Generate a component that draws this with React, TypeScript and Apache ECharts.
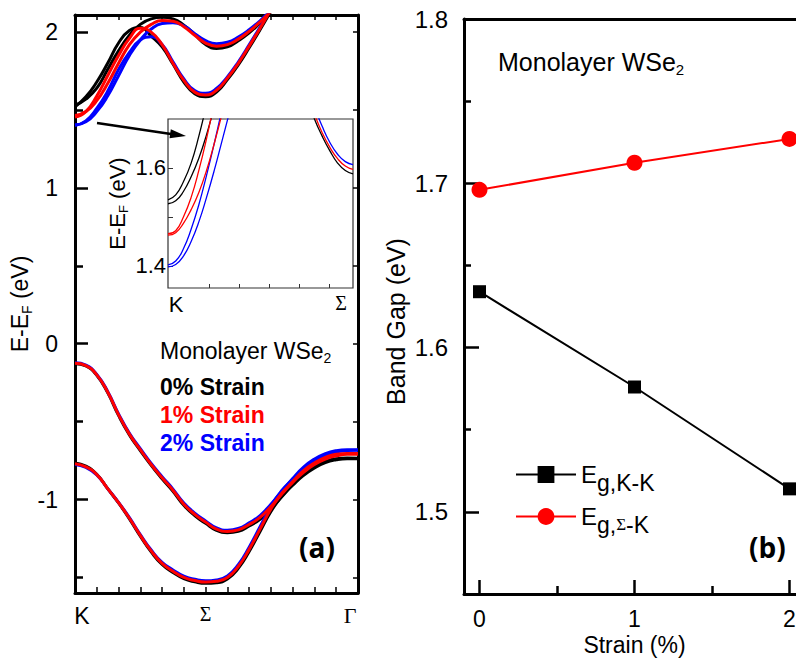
import React, { useEffect, useRef } from "react";
import * as echarts from "echarts";

const FONT = "Liberation Sans";
const SERIF = "Liberation Serif";
const BLACK = "#000000";
const RED = "#ff0000";
const BLUE = "#0000ff";

// ---------- Panel (a): band structure along K - Σ - Γ (path units) ----------
const kPath = [0, 0.5, 1, 1.5, 2, 2.5, 3, 3.5, 4, 4.5, 5, 5.5, 6, 6.5, 7, 7.5, 8, 8.5, 9, 9.5, 10, 10.5, 11, 11.5, 12, 12.5, 13];
const kTickPos = [0, 6, 13];
const kTickLabels = ["K", "Σ", "Γ"];
const eTicks = [-1, 0, 1, 2];
const eMinorTicks = [-1.5, -0.5, 0.5, 1.5];

// conduction bands (first 20 k-points)
const cb1Strain0 = [1.52, 1.585, 1.68, 1.8, 1.93, 2.01, 2.03, 1.975, 1.905, 1.795, 1.68, 1.605, 1.586, 1.615, 1.695, 1.79, 1.9, 2.015, 2.135, 2.255];
const cb2Strain0 = [1.53, 1.57, 1.64, 1.76, 1.88, 1.98, 2.05, 2.085, 2.095, 2.085, 2.045, 1.985, 1.92, 1.895, 1.905, 1.945, 1.995, 2.06, 2.13, 2.21];
const cb1Strain1 = [1.455, 1.49, 1.59, 1.72, 1.85, 1.96, 2.025, 2.0, 1.92, 1.8, 1.69, 1.615, 1.597, 1.627, 1.705, 1.8, 1.91, 2.025, 2.145, 2.27];
const cb2Strain1 = [1.465, 1.49, 1.56, 1.67, 1.8, 1.92, 2.0, 2.05, 2.075, 2.07, 2.035, 1.98, 1.93, 1.91, 1.92, 1.955, 2.005, 2.065, 2.135, 2.215];
const cb1Strain2 = [1.4, 1.43, 1.51, 1.62, 1.76, 1.87, 1.95, 1.97, 1.92, 1.81, 1.7, 1.625, 1.608, 1.638, 1.713, 1.808, 1.918, 2.033, 2.153, 2.275];
const cb2Strain2 = [1.405, 1.425, 1.49, 1.59, 1.72, 1.85, 1.95, 2.02, 2.055, 2.06, 2.04, 1.99, 1.945, 1.925, 1.935, 1.968, 2.015, 2.073, 2.143, 2.223];

// valence bands (27 k-points)
const vb1Strain0 = [-0.128, -0.143, -0.203, -0.314, -0.46, -0.585, -0.686, -0.781, -0.867, -0.947, -1.037, -1.103, -1.153, -1.198, -1.213, -1.204, -1.17, -1.127, -1.06, -0.982, -0.905, -0.838, -0.79, -0.757, -0.738, -0.734, -0.735];
const vb1Strain1 = [-0.125, -0.14, -0.2, -0.31, -0.455, -0.58, -0.68, -0.775, -0.86, -0.94, -1.03, -1.095, -1.145, -1.19, -1.205, -1.195, -1.16, -1.115, -1.045, -0.965, -0.885, -0.815, -0.765, -0.73, -0.71, -0.705, -0.705];
const vb1Strain2 = [-0.122, -0.137, -0.197, -0.306, -0.45, -0.575, -0.674, -0.769, -0.853, -0.933, -1.023, -1.087, -1.137, -1.182, -1.197, -1.186, -1.15, -1.103, -1.03, -0.948, -0.865, -0.792, -0.74, -0.705, -0.686, -0.68, -0.68];
const vb2Strain0 = [-0.765, -0.786, -0.838, -0.93, -1.022, -1.124, -1.235, -1.336, -1.417, -1.468, -1.508, -1.528, -1.538, -1.534, -1.51, -1.442, -1.334, -1.205, -1.077, -0.978, -0.908, -0.845, -0.797, -0.763, -0.745, -0.738, -0.738];
const vb2Strain1 = [-0.77, -0.79, -0.84, -0.93, -1.02, -1.12, -1.23, -1.33, -1.41, -1.46, -1.5, -1.52, -1.53, -1.525, -1.5, -1.43, -1.32, -1.19, -1.06, -0.96, -0.89, -0.825, -0.775, -0.74, -0.72, -0.71, -0.71];
const vb2Strain2 = [-0.775, -0.794, -0.842, -0.93, -1.018, -1.116, -1.225, -1.324, -1.403, -1.452, -1.492, -1.512, -1.522, -1.516, -1.49, -1.418, -1.306, -1.175, -1.043, -0.942, -0.87, -0.803, -0.752, -0.716, -0.695, -0.685, -0.683];

// ---------- Inset: zoom near K and Σ ----------
const insetK = [0, 0.25, 0.5, 0.75, 1, 1.25, 1.5, 1.75, 2, 2.25];
const insetS = [4.5, 4.75, 5, 5.25, 5.5, 5.75, 6];
const insetXTicks = [1.33, 2.3, 3.27, 4.25, 5.22];
const insetXLabelPos = [0, 6];
const insetYTicks = [1.4, 1.5, 1.6];
const insetYLabels = [1.4, 1.6];
const inK0a = [1.535, 1.545, 1.572, 1.61, 1.665, 1.73];
const inK0b = [1.527, 1.533, 1.552, 1.582, 1.62, 1.668, 1.725];
const inK1a = [1.466, 1.472, 1.5, 1.54, 1.595, 1.66, 1.735];
const inK1b = [1.463, 1.468, 1.487, 1.515, 1.55, 1.595, 1.65, 1.71];
const inK2a = [1.402, 1.41, 1.435, 1.475, 1.525, 1.585, 1.65, 1.72];
const inK2b = [1.398, 1.403, 1.42, 1.45, 1.49, 1.54, 1.595, 1.655, 1.715];
const inS0 = [1.745, 1.7, 1.665, 1.635, 1.61, 1.595, 1.588];
const inS1 = [1.755, 1.71, 1.672, 1.642, 1.619, 1.604, 1.597];
const inS2 = [1.77, 1.725, 1.685, 1.652, 1.628, 1.613, 1.607];

// ---------- Panel (b): band gap vs strain ----------
const strain = [0, 1, 2];
const gapKK = [1.634, 1.576, 1.514];
const gapSK = [1.696, 1.7125, 1.727];
const strainTicks = [0, 1, 2];
const strainMinorTicks = [0.5, 1.5];
const gapTicks = [1.5, 1.6, 1.7, 1.8];
const gapMinorTicks = [1.55, 1.65, 1.75];

const pairs = (xs: number[], ys: number[]) => ys.map((y, i) => [xs[i], y]);

function bandSeries(name: string, xs: number[], ys: number[], color: string, width: number, xi: number, yi: number) {
  return {
    name,
    type: "line",
    xAxisIndex: xi,
    yAxisIndex: yi,
    data: pairs(xs, ys),
    symbol: "none",
    smooth: true,
    clip: true,
    silent: true,
    z: 3,
    lineStyle: { color, width },
  };
}

const sub = (size: number) => ({ fontSize: size, fontFamily: FONT, lineHeight: 10, verticalAlign: "bottom" });

export default function App() {
  const ref = useRef<HTMLDivElement>(null);
  useEffect(() => {
    const chart = echarts.init(ref.current!, null, { renderer: "svg" });
    const bandSets = [
      { c: BLACK, cb: [cb1Strain0, cb2Strain0], vb: [vb1Strain0, vb2Strain0], ik: [inK0a, inK0b], is: inS0 },
      { c: BLUE, cb: [cb1Strain2, cb2Strain2], vb: [vb1Strain2, vb2Strain2], ik: [inK2a, inK2b], is: inS2 },
      { c: RED, cb: [cb1Strain1, cb2Strain1], vb: [vb1Strain1, vb2Strain1], ik: [inK1a, inK1b], is: inS1 },
    ];
    const series: any[] = [];
    bandSets.forEach((b, n) => {
      b.cb.forEach((d, j) => series.push(bandSeries(`cb${j}-${n}`, kPath, d, b.c, 3, 0, 0)));
      b.vb.forEach((d, j) => series.push(bandSeries(`vb${j}-${n}`, kPath, d, b.c, 3, 0, 0)));
    });
    bandSets.forEach((b, n) => {
      b.ik.forEach((d, j) => series.push(bandSeries(`ik${j}-${n}`, insetK, d, b.c, 1.3, 2, 2)));
      series.push(bandSeries(`is-${n}`, insetS, b.is, b.c, 1.3, 2, 2));
    });
    series.push({
      name: "Eg,K-K", type: "line", xAxisIndex: 3, yAxisIndex: 3,
      data: pairs(strain, gapKK), symbol: "rect", symbolSize: 13,
      lineStyle: { color: BLACK, width: 2 }, itemStyle: { color: BLACK }, clip: false,
    });
    series.push({
      name: "Eg,Σ-K", type: "line", xAxisIndex: 3, yAxisIndex: 3,
      data: pairs(strain, gapSK), symbol: "circle", symbolSize: 16,
      lineStyle: { color: RED, width: 2 }, itemStyle: { color: RED }, clip: false,
    });

    const axisLine = (w: number) => ({ show: true, onZero: false, lineStyle: { color: BLACK, width: w } });
    const hiddenLine = { show: false, onZero: false };
    const noLabel = { show: false };
    const lbl = { fontFamily: FONT, color: BLACK };
    const mainRect = { left: 75, top: 15, width: 283, height: 578, outerBoundsMode: "none", containLabel: false };
    const rightRect = { left: 464, top: 19, width: 341, height: 575, outerBoundsMode: "none", containLabel: false };

    const option: any = {
      animation: false,
      backgroundColor: "#ffffff",
      grid: [
        { ...mainRect },
        { left: 168, top: 119, width: 185, height: 169, outerBoundsMode: "none", containLabel: false, show: true, backgroundColor: "#ffffff", borderColor: "#333", borderWidth: 1.2 },
        { ...rightRect },
        { ...mainRect },
        { ...rightRect },
      ],
      xAxis: [
        {
          gridIndex: 0, type: "value", position: "bottom", min: 0, max: 13, interval: 1,
          axisLine: axisLine(3), splitLine: { show: false },
          axisTick: { inside: true, length: 6, lineStyle: { width: 1.5, color: BLACK } },
          axisLabel: {
            customValues: kTickPos, showMinLabel: true, showMaxLabel: true, margin: 11,
            formatter: (v: number) => {
              const i = kTickPos.indexOf(v);
              const key = i === 0 ? "k" : i === 1 ? "s" : "g";
              return `{${key}|${kTickLabels[i]}}`;
            },
            rich: {
              k: { fontFamily: FONT, fontSize: 23, color: BLACK, padding: [0, 0, 0, 14] },
              s: { fontFamily: SERIF, fontSize: 20, color: BLACK },
              g: { fontFamily: SERIF, fontSize: 22, color: BLACK, padding: [0, 16, 0, 0] },
            },
          },
        },
        {
          gridIndex: 0, type: "value", position: "top", min: 0, max: 13, interval: 1,
          axisLine: axisLine(3), splitLine: { show: false },
          axisTick: { inside: true, length: 5, lineStyle: { width: 1.5, color: BLACK } },
          axisLabel: noLabel,
        },
        {
          gridIndex: 1, type: "value", position: "bottom", min: 0, max: 6,
          axisLine: hiddenLine, splitLine: { show: false },
          axisTick: { inside: true, length: 4, customValues: insetXTicks, lineStyle: { width: 1, color: "#333" } },
          axisLabel: {
            customValues: insetXLabelPos, showMinLabel: true, showMaxLabel: true, margin: 5,
            formatter: (v: number) => (v === insetXLabelPos[0] ? "{k|K}" : "{s|Σ}"),
            rich: {
              k: { fontFamily: FONT, fontSize: 22, color: BLACK, padding: [0, 0, 0, 16] },
              s: { fontFamily: SERIF, fontSize: 20, color: BLACK, padding: [0, 24, 0, 0] },
            },
          },
        },
        {
          gridIndex: 2, type: "value", position: "bottom", min: -0.1, max: 2.1,
          axisLine: axisLine(3), splitLine: { show: false },
          axisTick: { inside: true, length: 14, customValues: strainTicks, lineStyle: { width: 2.5, color: BLACK } },
          axisLabel: { ...lbl, fontSize: 23, lineHeight: 22, margin: 14, customValues: strainTicks, formatter: (v: number) => String(v) },
          name: "Strain (%)", nameLocation: "middle", nameGap: 40, nameMoveOverlap: false,
          nameTextStyle: { ...lbl, fontSize: 23, lineHeight: 22 },
        },
        {
          gridIndex: 2, type: "value", position: "top", min: -0.1, max: 2.1,
          axisLine: axisLine(3), splitLine: { show: false }, axisTick: { show: false }, axisLabel: noLabel,
        },
        {
          gridIndex: 3, type: "value", position: "bottom", min: 0, max: 13, show: false,
        },
        {
          gridIndex: 4, type: "value", position: "bottom", min: -0.1, max: 2.1,
          axisLine: hiddenLine, splitLine: { show: false },
          axisTick: { inside: true, length: 8, customValues: strainMinorTicks, lineStyle: { width: 2.5, color: BLACK } },
          axisLabel: noLabel,
        },
      ],
      yAxis: [
        {
          gridIndex: 0, type: "value", position: "left", min: -1.6, max: 2.11,
          axisLine: axisLine(3), splitLine: { show: false },
          axisTick: { inside: true, length: 13, customValues: eTicks, lineStyle: { width: 2.5, color: BLACK } },
          axisLabel: { ...lbl, fontSize: 23, margin: 17, customValues: eTicks, formatter: (v: number) => String(v) },
          name: "{a|E-E}{s|F}{a| (eV)}", nameLocation: "middle", nameGap: 40,
          nameTextStyle: { rich: { a: { fontFamily: FONT, fontSize: 23, color: BLACK, lineHeight: 28 }, s: { ...sub(14), color: BLACK } } },
        },
        {
          gridIndex: 0, type: "value", position: "right", min: -1.6, max: 2.11,
          axisLine: axisLine(3), splitLine: { show: false },
          axisTick: { inside: true, length: 5, customValues: [...eMinorTicks, ...eTicks], lineStyle: { width: 1.5, color: BLACK } },
          axisLabel: noLabel,
        },
        {
          gridIndex: 1, type: "value", position: "left", min: 1.355, max: 1.7,
          axisLine: hiddenLine, splitLine: { show: false },
          axisTick: { inside: true, length: 5, customValues: insetYTicks, lineStyle: { width: 1, color: "#333" } },
          axisLabel: { ...lbl, fontSize: 22, margin: 2, customValues: insetYLabels, formatter: (v: number) => v.toFixed(1) },
          name: "{a|E-E}{s|F}{a| (eV)}", nameLocation: "middle", nameGap: 38,
          nameTextStyle: { rich: { a: { fontFamily: FONT, fontSize: 22, color: BLACK, lineHeight: 26 }, s: { ...sub(13), color: BLACK } } },
        },
        {
          gridIndex: 2, type: "value", position: "left", min: 1.45, max: 1.8,
          axisLine: axisLine(3), splitLine: { show: false },
          axisTick: { inside: true, length: 15, customValues: gapTicks, lineStyle: { width: 2.5, color: BLACK } },
          axisLabel: { ...lbl, fontSize: 24, margin: 16, customValues: gapTicks, formatter: (v: number) => v.toFixed(1) },
          name: "Band Gap (eV)", nameLocation: "middle", nameGap: 56,
          nameTextStyle: { ...lbl, fontSize: 25, padding: [0, 30, 0, 0] },
        },
        {
          gridIndex: 3, type: "value", position: "left", min: -1.6, max: 2.11,
          axisLine: hiddenLine, splitLine: { show: false },
          axisTick: { inside: true, length: 8, customValues: eMinorTicks, lineStyle: { width: 2.5, color: BLACK } },
          axisLabel: noLabel,
        },
        {
          gridIndex: 4, type: "value", position: "left", min: 1.45, max: 1.8,
          axisLine: hiddenLine, splitLine: { show: false },
          axisTick: { inside: true, length: 7, customValues: gapMinorTicks, lineStyle: { width: 2.5, color: BLACK } },
          axisLabel: noLabel,
        },
      ],
      legend: {
        data: ["Eg,K-K", "Eg,Σ-K"],
        orient: "vertical", left: 510, top: 450,
        itemWidth: 60, itemHeight: 21, itemGap: 3,
        formatter: (name: string) => (name === "Eg,K-K" ? "{e|E}{s|g,K-K}" : "{e|E}{s|g,}{z|Σ}{s|-K}"),
        textStyle: {
          rich: {
            e: { fontFamily: FONT, fontSize: 24, color: BLACK, lineHeight: 26 },
            s: { fontFamily: FONT, fontSize: 23, color: BLACK, lineHeight: 26, padding: [16, 0, 0, 0] },
            z: { fontFamily: SERIF, fontSize: 17, color: BLACK, lineHeight: 26, padding: [16, 0, 0, 0] },
          },
        },
      },
      graphic: [
        {
          type: "text", x: 160, y: 351, z: 100,
          style: {
            text: "{a|Monolayer WSe}{s|2}", align: "left", verticalAlign: "middle",
            rich: { a: { fontFamily: FONT, fontSize: 23, fill: BLACK, lineHeight: 28 }, s: { ...sub(14), fill: BLACK } },
          },
        },
        { type: "text", x: 160, y: 387, z: 100, style: { text: "0% Strain", fontFamily: FONT, fontWeight: "bold", fontSize: 23, fill: BLACK, align: "left", verticalAlign: "middle" } },
        { type: "text", x: 160, y: 415, z: 100, style: { text: "1% Strain", fontFamily: FONT, fontWeight: "bold", fontSize: 23, fill: RED, align: "left", verticalAlign: "middle" } },
        { type: "text", x: 160, y: 443, z: 100, style: { text: "2% Strain", fontFamily: FONT, fontWeight: "bold", fontSize: 23, fill: BLUE, align: "left", verticalAlign: "middle" } },
        { type: "text", x: 299, y: 547, z: 100, style: { text: "(a)", fontFamily: "Open Sans", fontWeight: "bold", fontSize: 28, fill: BLACK, align: "left", verticalAlign: "middle" } },
        { type: "text", x: 749, y: 547, z: 100, style: { text: "(b)", fontFamily: "Open Sans", fontWeight: "bold", fontSize: 28, fill: BLACK, align: "left", verticalAlign: "middle" } },
        {
          type: "text", x: 498, y: 62, z: 100,
          style: {
            text: "{a|Monolayer WSe}{s|2}", align: "left", verticalAlign: "middle",
            rich: { a: { fontFamily: FONT, fontSize: 25, fill: BLACK, lineHeight: 30 }, s: { ...sub(15), fill: BLACK } },
          },
        },
        { type: "line", z: 100, shape: { x1: 97, y1: 123, x2: 171, y2: 134 }, style: { stroke: BLACK, lineWidth: 2.5 } },
        { type: "polygon", z: 100, shape: { points: [[186, 136], [170.8, 129.2], [169.5, 138.2]] }, style: { fill: BLACK } },
      ],
      series,
    };
    chart.setOption(option);
    return () => chart.dispose();
  }, []);
  return <div ref={ref} style={{ position: "absolute", left: 0, top: 0, width: 796, height: 659 }} />;
}
